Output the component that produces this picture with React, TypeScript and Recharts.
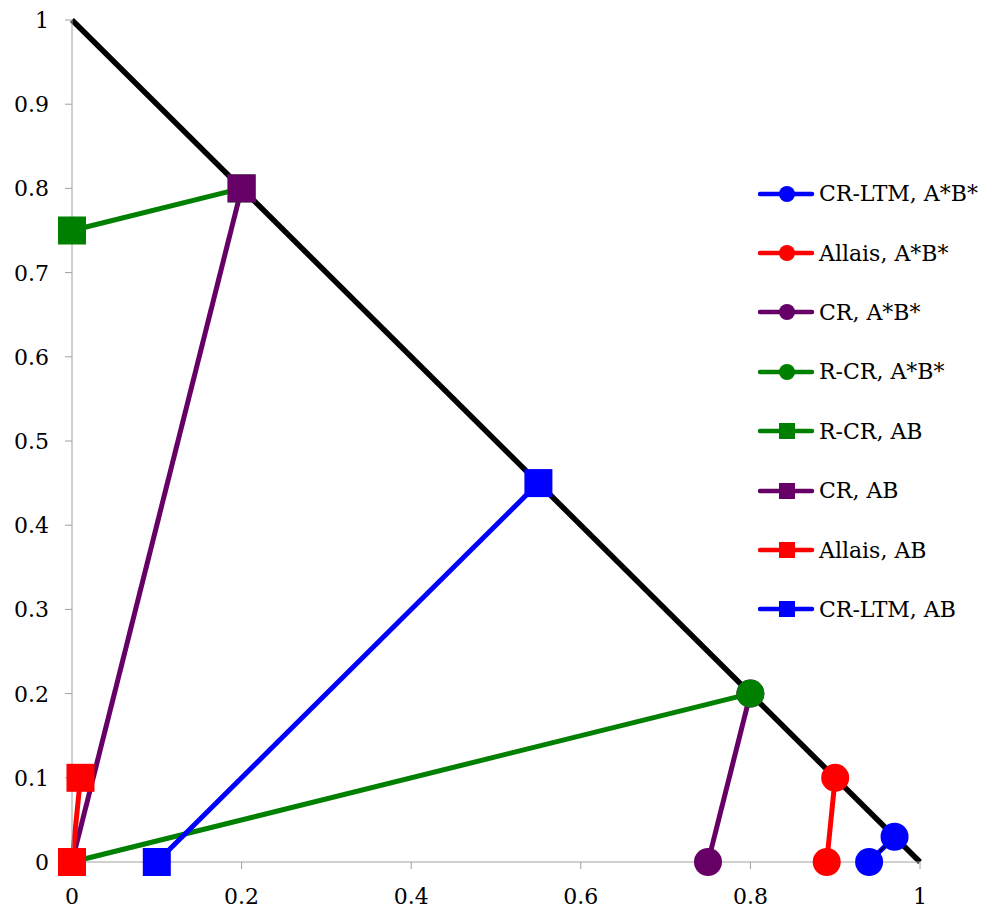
import React from 'react';
import { ComposedChart, Line, XAxis, YAxis } from 'recharts';

const xTicks = [0, 0.2, 0.4, 0.6, 0.8, 1];
const yTicks = [0, 0.1, 0.2, 0.3, 0.4, 0.5, 0.6, 0.7, 0.8, 0.9, 1];

const names = ['CR-LTM, A*B*', 'Allais, A*B*', 'CR, A*B*', 'R-CR, A*B*', 'R-CR, AB', 'CR, AB', 'Allais, AB', 'CR-LTM, AB'];
const colors = ['#0000ff', '#ff0000', '#660066', '#008000', '#008000', '#660066', '#ff0000', '#0000ff'];
const shapes = ['circle', 'circle', 'circle', 'circle', 'square', 'square', 'square', 'square'];
const xs = [[0.94, 0.97], [0.89, 0.9], [0.75, 0.8], [0, 0.8], [0, 0.2], [0, 0.2], [0, 0.01], [0.1, 0.55]];
const ys = [[0, 0.03], [0, 0.1], [0, 0.2], [0, 0.2], [0.75, 0.8], [0, 0.8], [0, 0.1], [0, 0.45]];

const frontierX = [0, 1];
const frontierY = [1, 0];

const font = 'DejaVu Serif';
const axisColor = '#a0a0a0';

const toPoints = (x: number[], y: number[]) => x.map((v, i) => ({ x: v, y: y[i] }));

const frontier = toPoints(frontierX, frontierY);
const series = names.map((name, i) => ({
  name,
  color: colors[i],
  shape: shapes[i],
  data: toPoints(xs[i], ys[i]),
}));

const makeDot = (shape: string, color: string, name: string, size: number) => (p: any) => {
  const k = `${name}-${p.index}`;
  if (p.cx == null || p.cy == null) return <g key={k} />;
  if (shape === 'circle') return <circle key={k} cx={p.cx} cy={p.cy} r={size / 2} fill={color} />;
  return <rect key={k} x={p.cx - size / 2} y={p.cy - size / 2} width={size} height={size} fill={color} />;
};

const AxisTick = ({ x, y, payload, anchor, dy }: any) => (
  <text x={x} y={y} dy={dy} textAnchor={anchor} fill="#000" fontSize={22} fontFamily={font}>
    {payload.value}
  </text>
);

const LegendBox = () => (
  <div style={{ position: 'absolute', left: 758, top: 164, fontFamily: font, fontSize: 22, color: '#000' }}>
    {series.map((s) => (
      <div key={s.name} style={{ display: 'flex', alignItems: 'center', height: 59.4 }}>
        <svg width={61} height={20}>
          <line x1={2} y1={10} x2={54} y2={10} stroke={s.color} strokeWidth={4.5} strokeLinecap="round" />
          {s.shape === 'circle'
            ? <circle cx={29} cy={10} r={8} fill={s.color} />
            : <rect x={21} y={2} width={16} height={16} fill={s.color} />}
        </svg>
        <span style={{ whiteSpace: 'nowrap' }}>{s.name}</span>
      </div>
    ))}
  </div>
);

export default function App() {
  return (
    <div style={{ position: 'absolute', left: 0, top: 0, width: 981, height: 910, background: '#fff' }}>
      <ComposedChart width={981} height={910} margin={{ top: 20, right: 61, left: 0, bottom: 0 }}>
        <XAxis
          type="number"
          dataKey="x"
          domain={[0, 1]}
          ticks={xTicks}
          height={48}
          stroke={axisColor}
          tickSize={7}
          tickMargin={6}
          tick={<AxisTick anchor="middle" dy={29} />}
          allowDuplicatedCategory={false}
        />
        <YAxis
          type="number"
          dataKey="y"
          domain={[0, 1]}
          ticks={yTicks}
          width={72}
          stroke={axisColor}
          tickSize={7}
          tickMargin={16}
          tick={<AxisTick anchor="end" dy={8} />}
        />
        <Line
          data={frontier}
          dataKey="y"
          stroke="#000"
          strokeWidth={5.5}
          dot={false}
          activeDot={false}
          isAnimationActive={false}
        />
        {series.map((s) => (
          <Line
            key={s.name}
            name={s.name}
            data={s.data}
            dataKey="y"
            stroke={s.color}
            strokeWidth={5}
            dot={makeDot(s.shape, s.color, s.name, 28)}
            activeDot={false}
            isAnimationActive={false}
          />
        ))}
        <Line
          data={series[0].data}
          dataKey="y"
          stroke="#000"
          strokeWidth={1.5}
          dot={false}
          activeDot={false}
          isAnimationActive={false}
        />
      </ComposedChart>
      <LegendBox />
    </div>
  );
}
